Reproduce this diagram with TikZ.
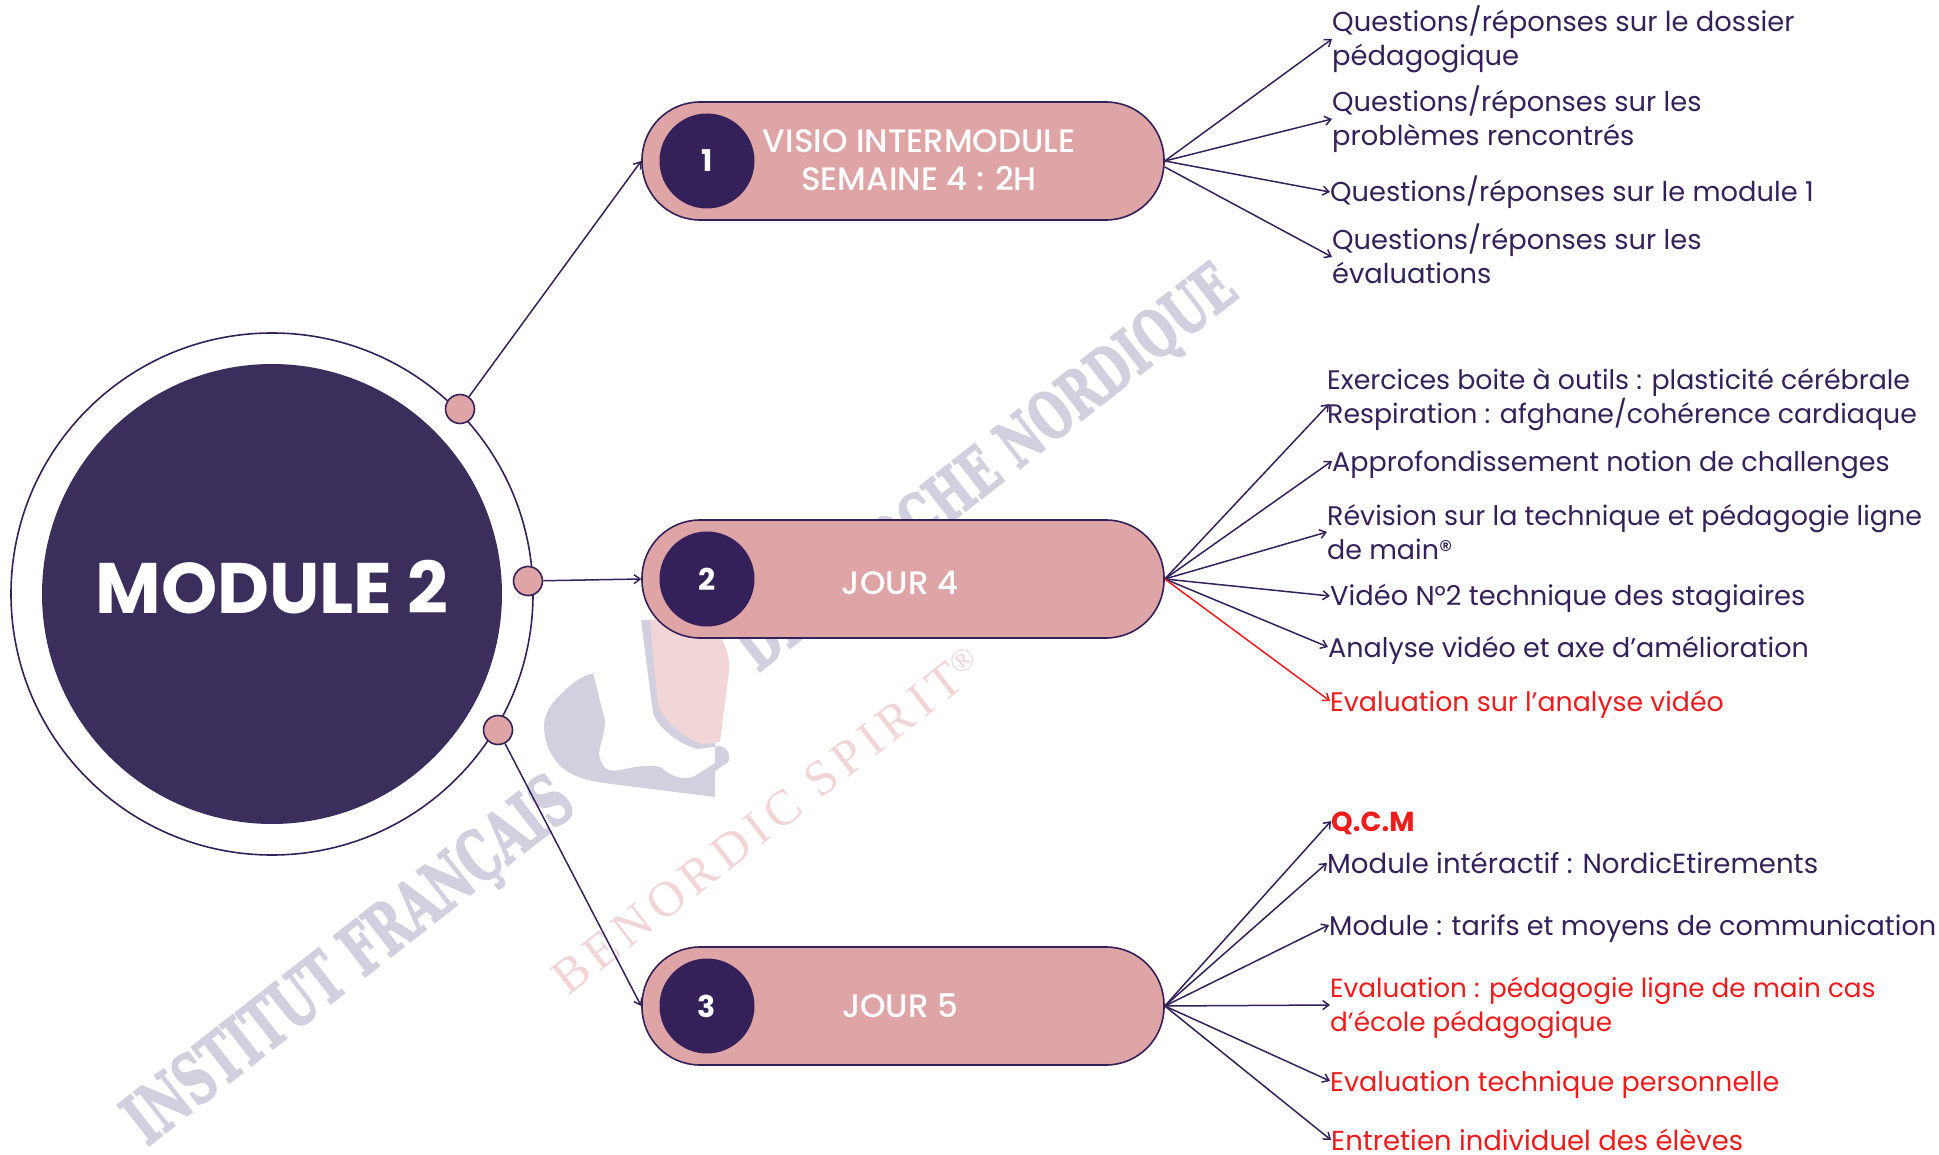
\documentclass[tikz,border=0pt]{standalone}
\usepackage{fontspec}
\usepackage{graphicx}
\setmainfont{Poppins}
\newfontfamily\pmed{Poppins Medium}
\newfontfamily\wmfont{DejaVu Serif}[BoldFont=* Bold,BoldFeatures={FakeBold=3}]
\newfontfamily\wmserif{Liberation Serif}[LetterSpace=13]
\usetikzlibrary{arrows.meta}
\definecolor{ink}{HTML}{35215A}
\definecolor{bigc}{HTML}{3B2E5C}
\definecolor{rosec}{HTML}{DEA4A6}
\definecolor{redc}{HTML}{EE1C1C}
\definecolor{wmgrey}{HTML}{D2D0DE}
\definecolor{wmpink}{HTML}{F2D5D6}
\tikzset{
 x=1pt,y=-1pt,
 pill/.style={draw=ink,line width=1.6pt,fill=rosec,rectangle,rounded corners=58pt,minimum width=522pt,minimum height=118pt,inner sep=0},
 num/.style={circle,fill=ink,text=white,minimum size=95pt,inner sep=0,font=\fontsize{30}{30}\selectfont\bfseries},
 pilltext/.style={text=white,align=center,inner sep=0,font=\fontsize{32.5}{38}\pmed},
 dot/.style={circle,draw=ink,line width=1.6pt,fill=rosec,minimum size=29pt,inner sep=0},
 arr/.style={draw=ink,line width=1.5pt,-{Straight Barb[length=6pt,width=9pt]}},
 redarr/.style={arr,draw=redc},
 item/.style={anchor=west,inner sep=0,align=left,text=ink,font=\fontsize{#1}{33.8}\selectfont},
 item/.default=27.3,
 reditem/.style={item=#1,text=redc},
 reditem/.default=27.3,
 wm/.style={anchor=base west,inner sep=0,rotate=38,text=wmgrey,font=\wmfont\bfseries},
}
\begin{document}
\begin{tikzpicture}
\useasboundingbox (0,0) rectangle (1939,1155);
% watermark
\node[wm] (wa) at (147,1147) {\resizebox{547pt}{52pt}{INSTITUT FRANÇAIS}};
\node[wm] (wb) at (758,673) {\resizebox{612pt}{48pt}{DE MARCHE NORDIQUE}};
\node[anchor=base west,inner sep=0,rotate=38,text=wmpink,font=\wmserif\fontsize{50}{50}\selectfont] (wc) at (568,997) {BENORDIC SPIRIT\raisebox{12pt}{\fontsize{32}{32}\selectfont ®}};
\fill[wmgrey] (641,620) -- (653,713) .. controls (658,728) and (680,745) .. (698,749) -- (720,746) .. controls (730,748) and (731,760) .. (727,763) -- (715,771) -- (715,740) -- (660,620) -- cycle;
\fill[wmpink] (650,620) -- (658,705) .. controls (662,720) and (690,742) .. (703,744) -- (720,742) -- (729,671) .. controls (730,655) and (725,645) .. (722,640) -- (722,620) -- cycle;
\fill[wmgrey] (597,674) -- (593,673) -- (605,721) .. controls (605,735) and (596,755) .. (600,758) .. controls (603,772) and (612,772) .. (625,769) .. controls (640,766) and (655,764) .. (662,768) .. controls (672,778) and (685,780) .. (695,776) -- (715,763) -- (715,797) -- (612,784) .. controls (575,780) and (549,770) .. (544,730) .. controls (543,715) and (550,705) .. (560,695) .. controls (570,685) and (585,672) .. (597,674) -- cycle;
% main circle
\node[circle,draw=ink,line width=1.6pt,minimum size=522pt,inner sep=0] (ring) at (272,594) {};
\node[circle,fill=bigc,minimum size=460pt,inner sep=0,text=white,font=\fontsize{71.5}{72}\selectfont\bfseries] (core) at (272,594) {\raisebox{15pt}{MODULE 2}};
\node[dot] (d1) at (460,409) {};
\node[dot] (d2) at (528,581) {};
\node[dot] (d3) at (498,730) {};
% pills
\node[pill] (p1) at (903,161) {};
\node[pill] (p2) at (903,579) {};
\node[pill] (p3) at (903,1006) {};
\node[num] (n1) at (707,161) {1};
\node[num] (n2) at (707,579) {2};
\node[num] (n3) at (707,1006) {3};
\node[pilltext] (t1) at (919,160) {VISIO INTERMODULE\\SEMAINE 4 : 2H};
\node[pilltext] (t2) at (900,583) {JOUR 4};
\node[pilltext] (t3) at (900,1006) {JOUR 5};
% items
\node[item=27.4] (q1) at (1332,39) {Questions/réponses sur le dossier\\pédagogique};
\node[item] (q2) at (1332,119) {Questions/réponses sur les\\problèmes rencontrés};
\node[item] (q3) at (1330,192) {Questions/réponses sur le module 1};
\node[item] (q4) at (1332,254) {Questions/réponses sur les\\évaluations};
\node[item=26.8] (m1) at (1327,400) {Exercices boite à outils : plasticité cérébrale\\Respiration : afghane/cohérence cardiaque};
\node[item=27] (m2) at (1332,465) {Approfondissement notion de challenges};
\node[item=26.9] (m3) at (1327,532) {Révision sur la technique et pédagogie ligne\\de main®};
\node[item] (m4) at (1330,599) {Vidéo N°2 technique des stagiaires};
\node[item=27] (m5) at (1328,650) {Analyse vidéo et axe d’amélioration};
\node[reditem=26.8] (m6) at (1330,704) {Evaluation sur l’analyse vidéo};
\node[reditem,font=\fontsize{27.5}{33.8}\selectfont\bfseries] (b1) at (1331,823) {Q.C.M};
\node[item=27.6] (b2) at (1327,863) {Module intéractif : NordicEtirements};
\node[item=27.1] (b3) at (1329,929) {Module : tarifs et moyens de communication};
\node[reditem=26.3] (b4) at (1330,1008) {Evaluation : pédagogie ligne de main cas\\d’école pédagogique};
\node[reditem=27] (b5) at (1330,1085) {Evaluation technique personnelle};
\node[reditem=27.5] (b6) at (1331,1140) {Entretien individuel des élèves};
% connectors
\draw[arr] (d1) -- (p1.west);
\draw[arr] (d2) -- (p2.west);
\draw[arr] (d3) -- (p3.west);
\foreach \t in {q1,q2,q3} \draw[arr] (p1.east) -- (\t.west);
\draw[arr] ([yshift=-6pt]p1.east) -- ([yshift=-3pt]q4.west);
\draw[arr] (p2.east) -- ([shift={(2pt,-4pt)}]m1.west);
\draw[arr] (p2.east) -- ([yshift=4pt]m2.west);
\draw[arr] (p2.east) -- (m3.west);
\draw[arr] (p2.east) -- ([yshift=3pt]m4.west);
\draw[arr] (p2.east) -- ([yshift=3pt]m5.west);
\draw[redarr] (p2.east) -- ([yshift=3pt]m6.west);
\draw[arr] (p3.east) -- ([yshift=2pt]b1.west);
\draw[arr] (p3.east) -- (b2.west);
\draw[arr] (p3.east) -- ([yshift=4pt]b3.west);
\draw[arr] (p3.east) -- ([yshift=3pt]b4.west);
\draw[arr] (p3.east) -- ([yshift=4pt]b5.west);
\draw[arr] (p3.east) -- (b6.west);
\end{tikzpicture}
\end{document}
